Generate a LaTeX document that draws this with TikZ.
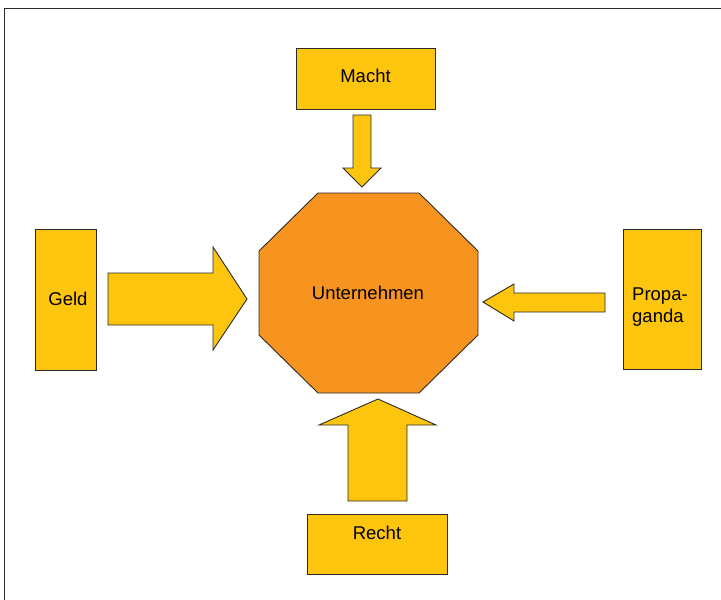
\documentclass[tikz,border=0pt]{standalone}
\usepackage{fontspec}
\setmainfont{Liberation Sans}
\definecolor{boxyellow}{HTML}{FEC50F}
\definecolor{octorange}{HTML}{F7941F}
\definecolor{edge}{HTML}{2A2A2A}
\begin{document}
\begin{tikzpicture}[x=1pt,y=-1pt,
  shape line/.style={draw=edge,line width=0.9pt,line join=miter},
  yellowshape/.style={shape line,fill=boxyellow},
  labelbox/.style={yellowshape,rectangle,inner sep=0pt},
  labeltext/.style={anchor=base,inner sep=0pt,font=\fontsize{18.5}{22}\selectfont}]
\useasboundingbox (0,0) rectangle (721,600);
% frame
\draw[draw=edge,line width=1.4pt] (721,8.5) -- (4.5,8.5) -- (4.5,600);
% boxes
\node[labelbox,minimum width=139pt,minimum height=61pt] (macht) at (365.5,78.5) {};
\node[labelbox,minimum width=61pt,minimum height=141pt] (geld) at (65.5,299.5) {};
\node[labelbox,minimum width=78pt,minimum height=140pt] (propa) at (662,299) {};
\node[labelbox,minimum width=140pt,minimum height=60pt] (recht) at (377,544) {};
\node[labeltext] (machttext) at (365.5,82) {Macht};
\node[labeltext] (geldtext) at (68,305) {Geld};
\node[labeltext,anchor=base west] (propatext1) at (632,300) {Propa-};
\node[labeltext,anchor=base west] (propatext2) at (632,322) {ganda};
\node[labeltext] (rechttext) at (377,539) {Recht};
% octagon
\draw[shape line,fill=octorange] (318,193) -- (419,193) -- (478,251) -- (478,335) -- (419,393) -- (318,393) -- (259,335) -- (259,251) -- cycle;
\node[labeltext] (unt) at (368,299) {Unternehmen};
% block arrows
\draw[yellowshape] (353,115) -- (371,115) -- (371,168) -- (381,168) -- (362,187) -- (343,168) -- (353,168) -- cycle;
\draw[yellowshape] (108,273) -- (213,273) -- (213,247) -- (247,299) -- (213,350) -- (213,325) -- (108,325) -- cycle;
\draw[yellowshape] (605,293) -- (514,293) -- (514,284) -- (483,302) -- (514,321) -- (514,312) -- (605,312) -- cycle;
\draw[yellowshape] (348,501) -- (348,425) -- (319,425) -- (378,399) -- (436,425) -- (407,425) -- (407,501) -- cycle;
\end{tikzpicture}
\end{document}
